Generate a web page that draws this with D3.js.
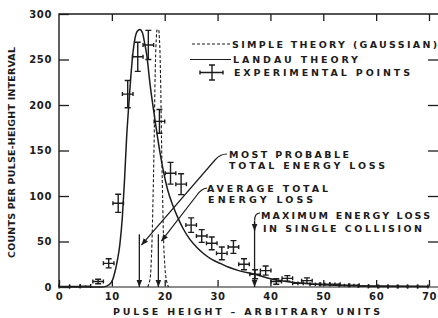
<!DOCTYPE html>
<html>
<head>
<meta charset="utf-8">
<script src="https://cdn.jsdelivr.net/npm/d3@7"></script>
<style>
  body { margin:0; background:#fff; }
  text { font-family: "DejaVu Sans", sans-serif; fill:#1c1c1c; font-weight: bold; }
</style>
</head>
<body>
<script>
// experimental points (pulse height, counts, y error)
var expX = [1, 3, 5, 7.4, 9.4, 11.2, 13.0, 14.9, 16.9, 19.0, 21.1, 23.1, 25.0, 27.0, 28.9, 30.8, 33.0, 35.0, 37.1, 39.1,
            41.1, 43.2, 45.2, 46.9, 48.5, 50.3, 52.2, 54.0, 55.8, 57.6, 59.5, 61.3, 63.2, 65.0, 66.9, 68.8];
var expY = [0.5, 0.5, 1, 6, 26, 92, 212, 253, 266, 182, 125, 113, 68, 56, 48, 37, 44, 25, 14, 18,
            6, 9.5, 4, 7, 3, 3, 3, 2, 2, 1, 0.5, 0.5, 0.5, 0.5, 0.5, 0.5];
var expErr = [0.5, 0.5, 0.8, 2.5, 5, 10, 15, 16, 16, 13, 12, 11.5, 8, 7, 7, 7, 7, 6, 5, 5,
              3, 3, 2, 3, 2, 2, 2, 1.5, 1.5, 1, 0.5, 0.5, 0.5, 0.5, 0.5, 0.5];
var expErrX = 1;

// Landau theory curve
var landauX = [0, 8, 9, 10, 10.6, 11, 11.5, 12, 12.4, 12.8, 13.2, 13.6, 14.0, 14.4, 14.8, 15.3, 15.8, 16.2, 16.6,
               17.2, 17.7, 18.2, 19.1, 19.8, 20.5, 21.5, 22.5, 23.5, 24.8, 26, 27.5, 29, 30.5, 32, 34, 37, 40, 43, 46, 50, 55, 60, 70];
var landauY = [0, 0, 1, 6, 17, 28, 46, 78, 118, 165, 200, 232, 258, 274, 281, 283, 279, 268, 255,
               224, 202, 182, 148, 126, 108, 90, 76, 64, 52, 44, 36, 30, 26, 22, 18, 14, 9, 6, 4, 2.5, 1.5, 1, 0.5];

// simple theory (gaussian) curve
var gaussX = [16.8, 17.2, 17.5, 17.8, 18.0, 18.2, 18.4, 18.6, 18.8, 19.0, 19.2, 19.4, 19.6, 19.9, 20.3, 20.7];
var gaussY = [0, 8, 35, 100, 160, 235, 272, 283, 283, 272, 235, 160, 100, 35, 8, 0];

// energy-loss markers: most probable, average, maximum single collision
var markerX = [15.2, 18.8, 37.0];
var markerTop = [58, 58, 73];

var xTicks = [0, 10, 20, 30, 40, 50, 60, 70];
var yTicks = [0, 50, 100, 150, 200, 250, 300];

var W = 438, H = 318;
var ink = "#1c1c1c";

var x = d3.scaleLinear().domain([0, 70]).range([59, 429]);
var y = d3.scaleLinear().domain([0, 300]).range([287, 14]);

var svg = d3.select("body").append("svg")
    .attr("width", W).attr("height", H);

svg.append("defs").append("marker")
    .attr("id", "head")
    .attr("viewBox", "0 0 10 10")
    .attr("refX", 10).attr("refY", 5)
    .attr("markerWidth", 7).attr("markerHeight", 7)
    .attr("markerUnits", "userSpaceOnUse")
    .attr("orient", "auto")
  .append("path")
    .attr("d", "M0,1 L10,5 L0,9 Z")
    .attr("fill", ink);

// axes
function styleAxis(g) {
  g.select(".domain").remove();
  g.selectAll(".tick line").attr("stroke", ink).attr("stroke-width", 1.3);
  g.selectAll(".tick text").style("font-size", "10px").attr("fill", ink)
    .style("letter-spacing", "0.6px");
}

svg.append("g").attr("transform", "translate(0,287)")
    .call(d3.axisBottom(x).tickValues(xTicks).tickSize(-7).tickPadding(6))
    .call(styleAxis);

svg.append("g").attr("transform", "translate(59,0)")
    .call(d3.axisLeft(y).tickValues(yTicks).tickSize(-10).tickPadding(7))
    .call(styleAxis);

svg.append("g").attr("transform", "translate(0,14)")
    .call(d3.axisTop(x).tickValues(xTicks.slice(1)).tickSize(-7).tickFormat(""))
    .call(styleAxis);

svg.append("g").attr("transform", "translate(440,0)")
    .call(d3.axisRight(y).tickValues(yTicks.slice(1, 6)).tickSize(-12).tickFormat(""))
    .call(styleAxis);

// frame
svg.append("path")
    .attr("d", "M59,287 V14 H440")
    .attr("fill", "none").attr("stroke", ink).attr("stroke-width", 1.4);
svg.append("line")
    .attr("x1", 59).attr("x2", 440).attr("y1", 287).attr("y2", 287)
    .attr("stroke", "#666").attr("stroke-width", 1.4);

// curves
var line = d3.line().x(function(d) { return x(d[0]); }).y(function(d) { return y(d[1]); })
    .curve(d3.curveMonotoneX);

svg.append("path")
    .datum(landauX.map(function(v, i) { return [v, landauY[i]]; }))
    .attr("d", line)
    .attr("fill", "none").attr("stroke", ink).attr("stroke-width", 1.5);

svg.append("path")
    .datum(gaussX.map(function(v, i) { return [v, gaussY[i]]; }))
    .attr("d", line.curve(d3.curveCatmullRom))
    .attr("fill", "none").attr("stroke", ink).attr("stroke-width", 1.1)
    .attr("stroke-dasharray", "3,2");

// experimental points with error bars
var pts = svg.append("g").attr("stroke", ink).attr("stroke-width", 1.4).attr("fill", "none");
expX.forEach(function(v, i) {
  var cx = x(v), cy = y(expY[i]);
  var y1 = y(expY[i] - expErr[i]), y2 = y(expY[i] + expErr[i]);
  var x1 = x(v - expErrX), x2 = x(v + expErrX);
  var d = "M" + cx + "," + y1 + "V" + y2 +
          "M" + x1 + "," + cy + "H" + x2;
  if (y1 - y2 > 4) {
    d += "M" + (cx - 3) + "," + y1 + "H" + (cx + 3) +
         "M" + (cx - 3) + "," + y2 + "H" + (cx + 3);
  }
  d += "M" + x1 + "," + (cy - 2) + "V" + (cy + 2) +
       "M" + x2 + "," + (cy - 2) + "V" + (cy + 2);
  pts.append("path").attr("d", d);
});

// vertical marker arrows
markerX.forEach(function(v, i) {
  svg.append("line")
      .attr("x1", x(v)).attr("x2", x(v))
      .attr("y1", y(markerTop[i])).attr("y2", y(0))
      .attr("stroke", ink).attr("stroke-width", 1.3)
      .attr("marker-end", "url(#head)");
});
// small arrow on maximum-loss line
svg.append("line")
    .attr("x1", x(markerX[2])).attr("x2", x(markerX[2]))
    .attr("y1", 222).attr("y2", 231)
    .attr("stroke", ink).attr("stroke-width", 1.3)
    .attr("marker-end", "url(#head)");

// leader lines
var leaders = [
  "M227,154 Q220,154 215,160 L" + (x(markerX[0]) + 2) + "," + (y(markerTop[0]) + 11),
  "M207,188 Q201,189 197,195 L" + (x(markerX[1]) + 3) + "," + (y(markerTop[1]) + 7),
  "M260,213 Q" + x(markerX[2]) + ",213 " + x(markerX[2]) + "," + y(markerTop[2])
];
leaders.forEach(function(d, i) {
  svg.append("path").attr("d", d)
      .attr("fill", "none").attr("stroke", ink).attr("stroke-width", 1.2)
      .attr("marker-end", i < 2 ? "url(#head)" : null);
});

// labels
var labels = [
  ["SIMPLE THEORY (GAUSSIAN)", 232, 47.5, 205],
  ["LANDAU THEORY", 233, 63.3, 125],
  ["EXPERIMENTAL POINTS", 234, 76, 176],
  ["MOST PROBABLE", 229, 158.3, 120],
  ["TOTAL ENERGY LOSS", 229, 169.3, 156],
  ["AVERAGE TOTAL", 207, 192, 121],
  ["ENERGY LOSS", 208, 203.3, 105],
  ["MAXIMUM ENERGY LOSS", 261, 219.3, 169],
  ["IN SINGLE COLLISION", 263, 232, 159]
];
labels.forEach(function(l) {
  svg.append("text")
      .attr("x", l[1]).attr("y", l[2])
      .attr("textLength", l[3]).attr("lengthAdjust", "spacing")
      .style("font-size", "9.5px")
      .text(l[0]);
});

// legend samples
svg.append("line").attr("x1", 192).attr("x2", 230).attr("y1", 44).attr("y2", 44)
    .attr("stroke", ink).attr("stroke-width", 1.1).attr("stroke-dasharray", "3,2");
svg.append("line").attr("x1", 190).attr("x2", 231).attr("y1", 59.5).attr("y2", 59.5)
    .attr("stroke", ink).attr("stroke-width", 1.1);
svg.append("path")
    .attr("d", "M200,72.5 H223 M200,70.5 V74.5 M223,70.5 V74.5 M212,65 V80 M209,65 H215 M209,80 H215")
    .attr("fill", "none").attr("stroke", ink).attr("stroke-width", 1.4);

// axis titles
svg.append("text")
    .attr("x", 113).attr("y", 315)
    .attr("textLength", 267).attr("lengthAdjust", "spacing")
    .style("font-size", "9.5px")
    .text("PULSE HEIGHT – ARBITRARY UNITS");

svg.append("text")
    .attr("transform", "translate(15,258) rotate(-90)")
    .attr("textLength", 211).attr("lengthAdjust", "spacing")
    .style("font-size", "9.5px")
    .text("COUNTS PER PULSE-HEIGHT INTERVAL");
</script>
</body>
</html>
